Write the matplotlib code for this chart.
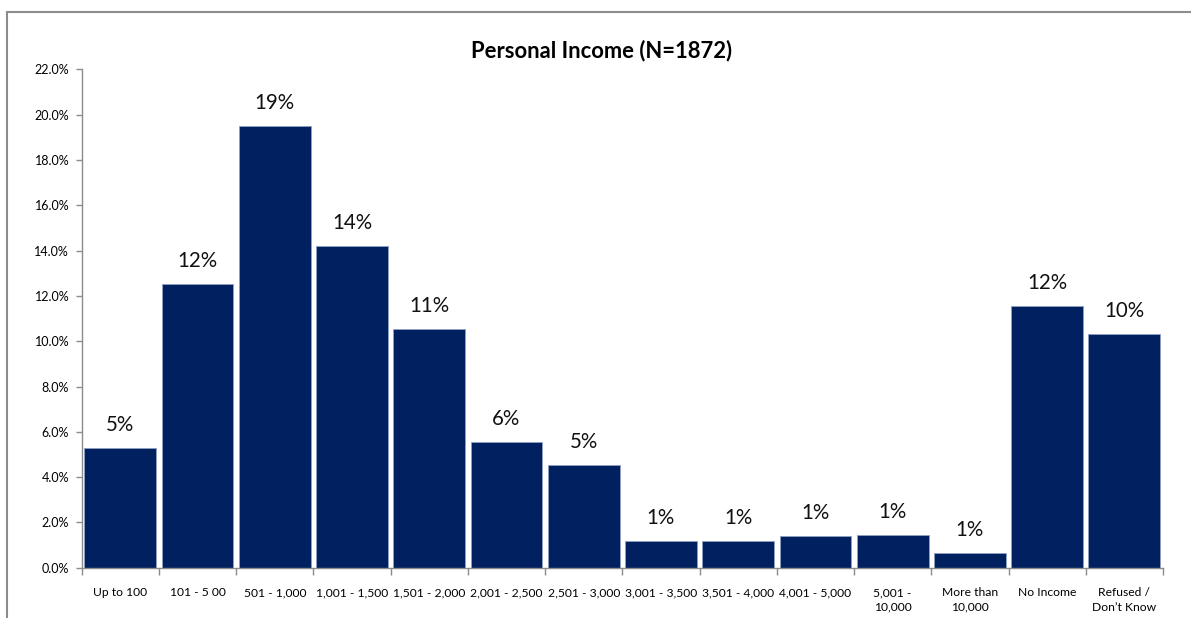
import matplotlib
matplotlib.use("Agg")
import matplotlib.pyplot as plt
from matplotlib.patches import Rectangle
from matplotlib.ticker import FuncFormatter, MultipleLocator

categories = ["Up to 100", "101 - 5 00", "501 - 1,000", "1,001 - 1,500", "1,501 - 2,000",
              "2,001 - 2,500", "2,501 - 3,000", "3,001 - 3,500", "3,501 - 4,000",
              "4,001 - 5,000", "5,001 -\n10,000", "More than\n10,000", "No Income",
              "Refused /\nDon\u2019t Know"]
values = [5.27, 12.52, 19.49, 14.2, 10.55, 5.56, 4.53, 1.17, 1.17, 1.39, 1.46, 0.65, 11.57, 10.32]
labels = ["5%", "12%", "19%", "14%", "11%", "6%", "5%", "1%", "1%", "1%", "1%", "1%", "12%", "10%"]
title = "Personal Income (N=1872)"

plt.rcParams['font.family'] = ['Lato', 'DejaVu Sans']

W, H = 1191, 618
fig = plt.figure(figsize=(W / 100, H / 100), dpi=100)
ax = fig.add_axes([81.7 / W, (H - 567.7) / H, (1163 - 81.7) / W, (567.7 - 69.4) / H])

x = list(range(len(categories)))
ax.bar(x, values, width=0.93, color="#002060", edgecolor="#8fa0c4", linewidth=0.6)
for xi, v, lab in zip(x, values, labels):
    ax.annotate(lab, (xi, v), xytext=(0, 16.5), textcoords="offset points",
                ha="center", va="center", fontsize=14.8, color="#111111")

ax.set_xlim(-0.5, len(categories) - 0.5)
ax.set_ylim(0, 22)
ax.yaxis.set_major_locator(MultipleLocator(2))
ax.yaxis.set_major_formatter(FuncFormatter(lambda v, p: f"{v:.1f}%"))
ax.set_xticks(x)
ax.set_xticklabels(categories, fontsize=8.7, linespacing=1.4, va="top")
ax.set_xticks([i - 0.5 for i in range(len(categories) + 1)], minor=True)
ax.tick_params(axis="x", which="major", length=0, pad=14)
ax.tick_params(axis="x", which="minor", length=5, color="#8c8c8c", width=1, direction="out")
ax.tick_params(axis="y", length=4, color="#8c8c8c", width=1, labelsize=9, pad=5)
for s in ("top", "right"):
    ax.spines[s].set_visible(False)
for s in ("left", "bottom"):
    ax.spines[s].set_color("#8c8c8c")
    ax.spines[s].set_linewidth(1)

fig.text(601.7 / W, 1 - 50.7 / H, title, ha="center", va="center", fontsize=15.8, fontweight="bold")

fig.patches.append(Rectangle((6.7 / W, -0.2), 1.2, (H - 12.3) / H + 0.2, transform=fig.transFigure,
                             fill=False, edgecolor="#8c8c8c", linewidth=1.5))

fig.savefig("out.png", dpi=100)
